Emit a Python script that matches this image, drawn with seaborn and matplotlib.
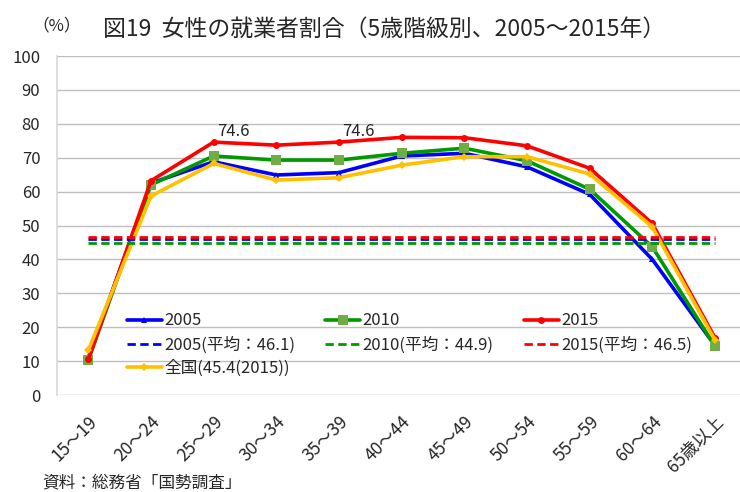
import numpy as np
import pandas as pd
import seaborn as sns
import matplotlib.pyplot as plt

# data
ages = ['15～19', '20～24', '25～29', '30～34', '35～39', '40～44',
        '45～49', '50～54', '55～59', '60～64', '65歳以上']
v2005 = [11.0, 62.5, 68.8, 64.9, 65.6, 70.5, 71.3, 67.3, 59.2, 40.0, 14.6]
v2010 = [10.3, 62.0, 70.5, 69.3, 69.3, 71.3, 72.8, 69.1, 60.7, 43.7, 14.4]
v2015 = [10.5, 63.2, 74.6, 73.7, 74.6, 76.0, 75.9, 73.5, 66.9, 50.6, 16.9]
zenkoku = [13.2, 58.7, 68.3, 63.4, 64.1, 67.8, 70.3, 70.3, 65.2, 49.6, 16.2]
avg2005 = 46.1
avg2010 = 44.9
avg2015 = 46.5

sns.set_theme(style='white')
plt.rcParams['font.family'] = ['Noto Sans CJK JP', 'DejaVu Sans']

fig = plt.figure(figsize=(7.4, 4.92), dpi=100)
ax = fig.add_axes([57/740, 97/492, 1 - 57/740, (395-56)/492])

x = np.arange(len(ages))
df = pd.DataFrame({'x': x, '2005': v2005, '2010': v2010, '2015': v2015, 'zenkoku': zenkoku})

sns.lineplot(data=df, x='x', y='2005', ax=ax, color='#0000FF', lw=2.6,
             marker='^', markersize=5, markeredgewidth=0, label='2005')
sns.lineplot(data=df, x='x', y='2010', ax=ax, color='#009900', lw=2.6,
             marker='s', markersize=7, markerfacecolor='#70AD47', markeredgewidth=0, label='2010')
sns.lineplot(data=df, x='x', y='2015', ax=ax, color='#FF0000', lw=2.6,
             marker='o', markersize=5, markeredgewidth=0, label='2015')
sns.lineplot(data=df, x='x', y='zenkoku', ax=ax, color='#FFC000', lw=2.6,
             marker='D', markersize=4, markeredgewidth=0, label='全国(45.4(2015))')

dash = (0, (3, 1.6))
ax.plot([0, 10], [avg2005, avg2005], color='#0000FF', lw=2, ls=dash, label='2005(平均：46.1)')
ax.plot([0, 10], [avg2010, avg2010], color='#009900', lw=2, ls=dash, label='2010(平均：44.9)')
ax.plot([0, 10], [avg2015, avg2015], color='#FF0000', lw=2, ls=dash, label='2015(平均：46.5)')

for i in [2, 4]:
    ax.text(x[i] + 0.05, v2015[i] + 0.6, f'{v2015[i]:.1f}', fontsize=12, ha='left', va='bottom')

ax.set_ylim(0, 100)
ax.set_xlim(-0.5, 10.4)
ax.set_yticks(range(0, 101, 10))
ax.set_xticks(x)
ax.set_xticklabels(ages, rotation=45, ha='right', rotation_mode='anchor', fontsize=12.5)
ax.tick_params(axis='y', labelsize=12, pad=12, length=0)
ax.tick_params(axis='x', pad=13, length=0)
ax.grid(axis='y', color='#BFBFBF', lw=1)
for s in ['top', 'right', 'bottom']:
    ax.spines[s].set_visible(False)
ax.spines['left'].set_color('#D9D9D9')
ax.set_xlabel('')
ax.set_ylabel('')

handles, labels = ax.get_legend_handles_labels()
order = ['2005', '2005(平均：46.1)', '全国(45.4(2015))', '2010', '2010(平均：44.9)', '2015', '2015(平均：46.5)']
hd = dict(zip(labels, handles))
ax.legend([hd[k] for k in order], order, ncol=3, frameon=False, fontsize=12,
          loc='upper left', bbox_to_anchor=(0.09, 0.268), handlelength=2.1,
          handletextpad=0.15, columnspacing=1.8, labelspacing=0.4, borderpad=0)

fig.text(32/740, 1 - 26/492, '（%）', fontsize=12, va='center')
fig.text(103/740, 1 - 29/492, '図19  女性の就業者割合（5歳階級別、2005～2015年）', fontsize=16.5, va='center')
fig.text(42/740, 1 - 483/492, '資料：総務省「国勢調査」', fontsize=12, va='center')

fig.savefig('out.png', dpi=100)
